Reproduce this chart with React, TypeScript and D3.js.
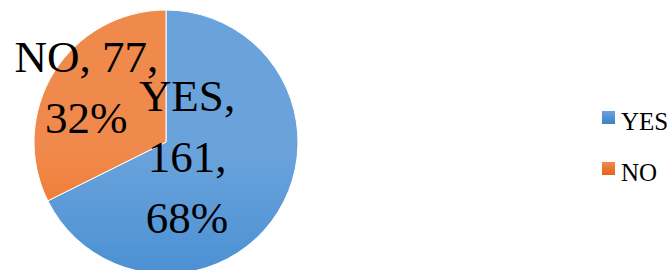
import * as d3 from 'd3';
import { useEffect, useRef } from 'react';

const categories = ['YES', 'NO'];
const counts = [161, 77];
const percents = ['68%', '32%'];

const width = 672;
const height = 270;
const cx = 166;
const cy = 142;
const radius = 132;
const font = '"Liberation Serif", "Times New Roman", serif';

const App = () => {
  const svgRef = useRef<SVGSVGElement>(null);

  useEffect(() => {
    const svg = d3.select(svgRef.current);
    svg.selectAll('*').remove();

    const defs = svg.append('defs');
    const grads = [
      ['gYes', '#6aa3dc', '#4f93d4', '#3b81c5'],
      ['gNo', '#f0894c', '#ef7223', '#e36418'],
    ];
    grads.forEach(([id, top, mid, bottom]) => {
      const g = defs.append('linearGradient').attr('id', id)
        .attr('gradientUnits', 'userSpaceOnUse')
        .attr('x1', 0).attr('y1', cy - radius).attr('x2', 0).attr('y2', cy + radius);
      g.append('stop').attr('offset', '0%').attr('stop-color', top);
      g.append('stop').attr('offset', '40%').attr('stop-color', mid);
      g.append('stop').attr('offset', '100%').attr('stop-color', bottom);
    });

    const pie = d3.pie<number>().sort(null).value(d => d);
    const arcs = pie(counts);
    const arc = d3.arc<d3.PieArcDatum<number>>().innerRadius(0).outerRadius(radius);

    const g = svg.append('g').attr('transform', `translate(${cx},${cy})`);
    g.selectAll('path')
      .data(arcs)
      .join('path')
      .attr('d', arc)
      .attr('fill', (d, i) => `url(#${grads[i][0]})`)
      .attr('stroke', '#fff')
      .attr('stroke-width', 1);

    // label anchors: NO sits on its centroid, YES is nudged toward the middle like Excel's best fit
    const labelArc = d3.arc<d3.PieArcDatum<number>>().innerRadius(radius * 0.71).outerRadius(radius * 0.71);
    const lineH = 61;
    arcs.forEach((d, i) => {
      let [x, y] = labelArc.centroid(d);
      if (i === 0) { x = 21; y = 20; }
      const lines = i === 0
        ? [`${categories[i]},`, `${counts[i]},`, percents[i]]
        : [`${categories[i]}, ${counts[i]},`, percents[i]];
      const t = g.append('text')
        .attr('text-anchor', 'middle')
        .attr('font-family', font)
        .attr('font-size', 45)
        .attr('fill', '#000');
      lines.forEach((l, k) => {
        t.append('tspan')
          .attr('x', x)
          .attr('y', y + (k - (lines.length - 1) / 2) * lineH + 10)
          .text(l);
      });
    });

    const legend = svg.append('g').attr('transform', 'translate(602,0)');
    const ly = d3.scalePoint().domain(categories).range([117.5, 168.5]);
    categories.forEach((c, i) => {
      const lg = defs.append('linearGradient').attr('id', `${grads[i][0]}L`)
        .attr('x1', 0).attr('y1', 0).attr('x2', 0).attr('y2', 1);
      lg.append('stop').attr('offset', '0%').attr('stop-color', grads[i][1]);
      lg.append('stop').attr('offset', '100%').attr('stop-color', grads[i][3]);
      legend.append('rect')
        .attr('x', 0).attr('y', (ly(c) as number) - 6.5)
        .attr('width', 13).attr('height', 13)
        .attr('fill', `url(#${grads[i][0]}L)`);
      legend.append('text')
        .attr('x', 19).attr('y', (ly(c) as number) + 12)
        .attr('font-family', font)
        .attr('font-size', 25)
        .attr('fill', '#000')
        .text(c);
    });
  }, []);

  return (
    <svg ref={svgRef} width={width} height={height}
      style={{ position: 'absolute', left: 0, top: 0, background: '#fff' }} />
  );
};

export default App;
